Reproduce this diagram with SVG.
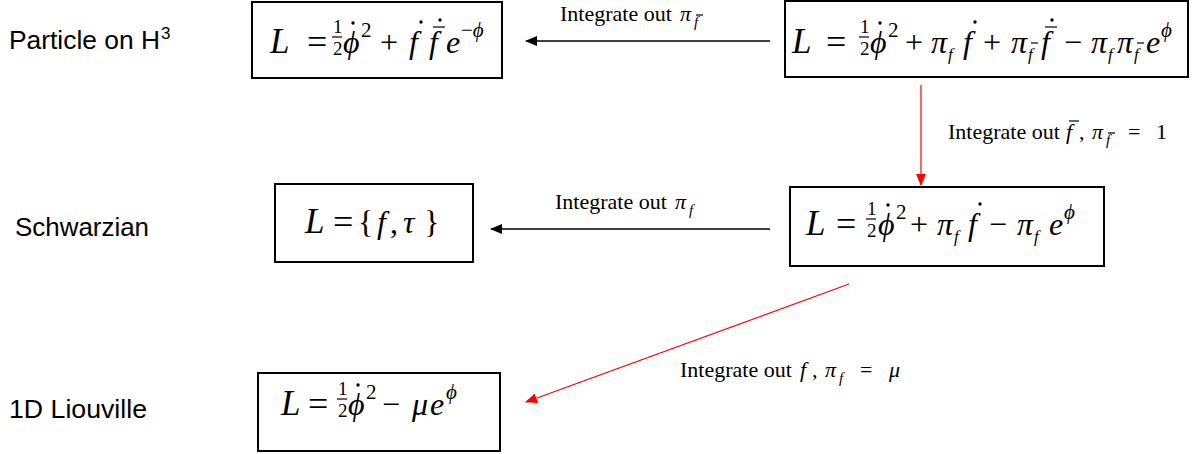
<svg xmlns="http://www.w3.org/2000/svg" width="1193" height="454" viewBox="0 0 1193 454">
<defs>
<style>
.box{fill:#fff;stroke:#000;stroke-width:2}
.m{font-family:"Liberation Serif","DejaVu Serif",serif;font-size:32px;fill:#000}
.L{font-size:35px}
.eq{font-size:36px}
.i{font-style:italic}
.s{font-size:21px}
.sb{font-size:17px}
.fr{font-size:19px}
.lbl{font-family:"Liberation Serif","DejaVu Serif",serif;font-size:22px;fill:#000}
.lsub{font-family:"Liberation Serif","DejaVu Serif",serif;font-size:15px;font-style:italic;fill:#000}
.ls{font-family:"Liberation Sans",Arial,sans-serif;font-size:25px;fill:#000}
.sup3{font-family:"Liberation Sans",Arial,sans-serif;font-size:17px;fill:#000}
.bar{stroke:#000;stroke-width:1.2}
.dot{fill:#000}
.blk{stroke:#000;stroke-width:1.5;fill:none}
.red{stroke:#f00;stroke-width:1.2;fill:none}
</style>
<marker id="ab" markerWidth="12" markerHeight="10" refX="11" refY="5" orient="auto" markerUnits="userSpaceOnUse"><path d="M0,0 L12,5 L0,10 z" fill="#000"/></marker>
<marker id="ar" markerWidth="12" markerHeight="10" refX="11" refY="5" orient="auto" markerUnits="userSpaceOnUse"><path d="M0,0 L12,5 L0,10 z" fill="#f00"/></marker>
</defs>
<rect width="1193" height="454" fill="#fff"/>

<g id="row-labels">
<text class="ls" x="9" y="49" textLength="151" lengthAdjust="spacingAndGlyphs">Particle on H</text>
<text class="sup3" x="161" y="39">3</text>
<text class="ls" x="15" y="236" textLength="134" lengthAdjust="spacingAndGlyphs">Schwarzian</text>
<text class="ls" x="9" y="418" textLength="138" lengthAdjust="spacingAndGlyphs">1D Liouville</text>
</g>

<g id="connectors">
<line class="blk" x1="770" y1="41" x2="526" y2="41" marker-end="url(#ab)"/>
<line class="blk" x1="770" y1="229" x2="491" y2="229" marker-end="url(#ab)"/>
<line class="red" x1="921" y1="85" x2="921" y2="185" marker-end="url(#ar)"/>
<line class="red" x1="849" y1="284" x2="526" y2="402" marker-end="url(#ar)"/>

<text class="lbl" x="560" y="21">Integrate out</text>
<text class="lbl i" x="680" y="21">π</text>
<text class="lsub" x="694" y="27">f</text>
<line class="bar" x1="696" y1="15" x2="703" y2="15"/>

<text class="lbl" x="555" y="209">Integrate out</text>
<text class="lbl i" x="675" y="209">π</text>
<text class="lsub" x="689" y="215">f</text>

<text class="lbl" x="948" y="139">Integrate out</text>
<text class="lbl i" x="1066" y="139">f</text>
<line class="bar" x1="1069" y1="121" x2="1079" y2="121"/>
<text class="lbl" x="1079" y="139">,</text>
<text class="lbl i" x="1092" y="139">π</text>
<text class="lsub" x="1106" y="145">f</text>
<line class="bar" x1="1108" y1="133" x2="1115" y2="133"/>
<text class="lbl" x="1128" y="139">=</text>
<text class="lbl" x="1156" y="139">1</text>

<text class="lbl" x="680" y="377">Integrate out</text>
<text class="lbl i" x="800" y="377">f</text>
<text class="lbl" x="812" y="377">,</text>
<text class="lbl i" x="825" y="377">π</text>
<text class="lsub" x="839" y="383">f</text>
<text class="lbl" x="860" y="377">=</text>
<text class="lbl i" x="889" y="377">μ</text>
</g>

<g id="n1-particle">
<rect class="box" x="252" y="2" width="250" height="76"/>
<text class="m L i" x="270" y="53">L</text>
<text class="m eq" x="307" y="54">=</text>
<text class="m fr" x="333" y="33">1</text><line class="bar" x1="332" y1="37" x2="342" y2="37"/><text class="m fr" x="333" y="55">2</text>
<text class="m i" x="343" y="53">ϕ</text><circle class="dot" cx="353" cy="23" r="1.7"/>
<text class="m s" x="361" y="37">2</text>
<text class="m" x="380" y="53">+</text>
<text class="m i" x="409" y="53">f</text><circle class="dot" cx="421" cy="22" r="1.7"/>
<text class="m i" x="429" y="53">f</text><line class="bar" x1="433" y1="27" x2="445" y2="27"/><circle class="dot" cx="440" cy="20" r="1.7"/>
<text class="m i" x="446" y="53">e</text>
<text class="m s" x="461" y="37">−<tspan class="i">ϕ</tspan></text>
</g>

<g id="n2-phase-space">
<rect class="box" x="785" y="1" width="403" height="76"/>
<text class="m L i" x="792" y="53">L</text>
<text class="m eq" x="826" y="54">=</text>
<text class="m fr" x="860" y="33">1</text><line class="bar" x1="859" y1="37" x2="869" y2="37"/><text class="m fr" x="860" y="55">2</text>
<text class="m i" x="870" y="53">ϕ</text><circle class="dot" cx="880" cy="23" r="1.7"/>
<text class="m s" x="888" y="37">2</text>
<text class="m" x="905" y="53">+</text>
<text class="m i" x="931" y="53">π</text><text class="m sb i" x="948" y="60">f</text>
<text class="m i" x="963" y="53">f</text><circle class="dot" cx="975" cy="22" r="1.7"/>
<text class="m" x="983" y="53">+</text>
<text class="m i" x="1011" y="53">π</text><text class="m sb i" x="1028" y="60">f</text><line class="bar" x1="1031" y1="43" x2="1038" y2="43"/>
<text class="m i" x="1041" y="53">f</text><line class="bar" x1="1045" y1="27" x2="1057" y2="27"/><circle class="dot" cx="1052" cy="20" r="1.7"/>
<text class="m" x="1064" y="53">−</text>
<text class="m i" x="1091" y="53">π</text><text class="m sb i" x="1108" y="60">f</text>
<text class="m i" x="1117" y="53">π</text><text class="m sb i" x="1134" y="60">f</text><line class="bar" x1="1137" y1="43" x2="1144" y2="43"/>
<text class="m i" x="1146" y="53">e</text>
<text class="m s i" x="1161" y="37">ϕ</text>
</g>

<g id="n3-schwarzian">
<rect class="box" x="275" y="184" width="198" height="78"/>
<text class="m L i" x="305" y="233">L</text>
<text class="m eq" x="333" y="234">=</text>
<text class="m" x="358" y="233">{</text>
<text class="m i" x="377" y="233">f</text>
<text class="m" x="390" y="233">,</text>
<text class="m i" x="403" y="233">τ</text>
<text class="m" x="424" y="233">}</text>
</g>

<g id="n4-reduced">
<rect class="box" x="790" y="187" width="314" height="79"/>
<text class="m L i" x="806" y="235">L</text>
<text class="m eq" x="836" y="236">=</text>
<text class="m fr" x="867" y="215">1</text><line class="bar" x1="866" y1="219" x2="876" y2="219"/><text class="m fr" x="867" y="237">2</text>
<text class="m i" x="878" y="235">ϕ</text><circle class="dot" cx="888" cy="205" r="1.7"/>
<text class="m s" x="896" y="219">2</text>
<text class="m" x="910" y="235">+</text>
<text class="m i" x="937" y="235">π</text><text class="m sb i" x="954" y="242">f</text>
<text class="m i" x="968" y="235">f</text><circle class="dot" cx="980" cy="204" r="1.7"/>
<text class="m" x="989" y="235">−</text>
<text class="m i" x="1017" y="235">π</text><text class="m sb i" x="1034" y="242">f</text>
<text class="m i" x="1049" y="235">e</text>
<text class="m s i" x="1064" y="219">ϕ</text>
</g>

<g id="n5-liouville">
<rect class="box" x="258" y="373" width="242" height="78"/>
<text class="m L i" x="281" y="415">L</text>
<text class="m eq" x="308" y="416">=</text>
<text class="m fr" x="338" y="395">1</text><line class="bar" x1="337" y1="399" x2="347" y2="399"/><text class="m fr" x="338" y="417">2</text>
<text class="m i" x="348" y="415">ϕ</text><circle class="dot" cx="358" cy="385" r="1.7"/>
<text class="m s" x="366" y="399">2</text>
<text class="m" x="382" y="415">−</text>
<text class="m i" x="412" y="415">μ</text>
<text class="m i" x="430" y="415">e</text>
<text class="m s i" x="446" y="399">ϕ</text>
</g>
</svg>
